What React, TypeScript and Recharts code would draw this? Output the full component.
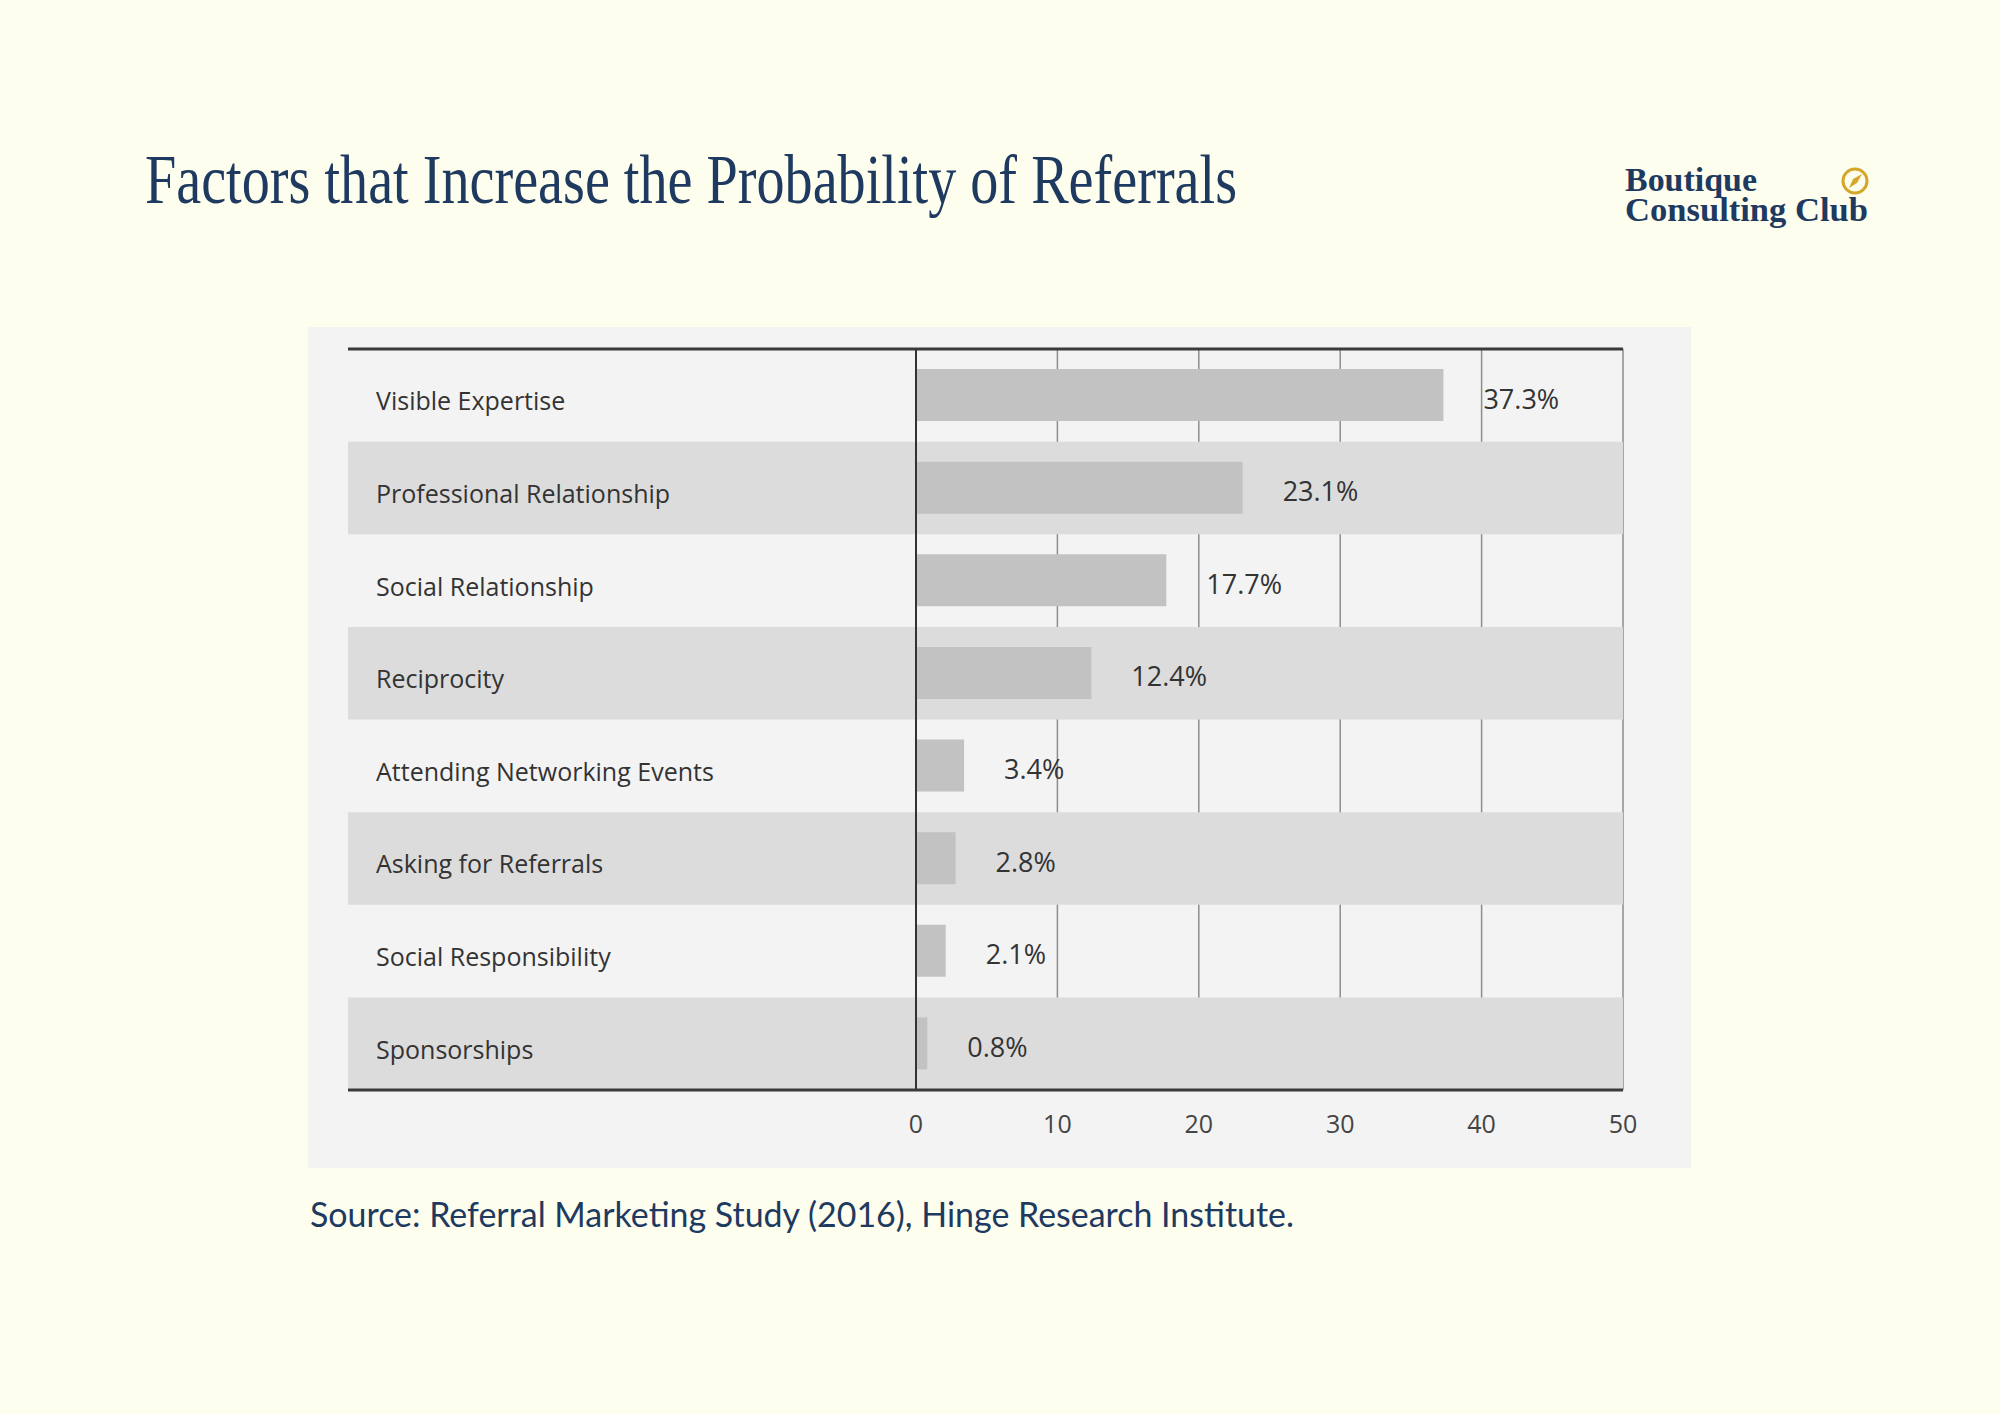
import React from 'react';
import {
    BarChart,
    Bar,
    XAxis,
    YAxis,
    CartesianGrid,
    ReferenceArea,
    ReferenceLine,
    LabelList
} from 'recharts';

const categories = [
    'Visible Expertise',
    'Professional Relationship',
    'Social Relationship',
    'Reciprocity',
    'Attending Networking Events',
    'Asking for Referrals',
    'Social Responsibility',
    'Sponsorships'
];
const shares = [37.3, 23.1, 17.7, 12.4, 3.4, 2.8, 2.1, 0.8];
const xTicks = [0, 10, 20, 30, 40, 50];

const NAVY = '#1f3a60';
const SANS = "'Open Sans', sans-serif";

// label column sits inside the plot, left of the zero line
const LABEL_COL = 568;
const VALUE_COL = 707;
const X_MIN = (-50 * LABEL_COL) / VALUE_COL;

const data = categories.map((name, i) => ({ name, value: shares[i] }));
const darkRows = categories.filter((_, i) => i % 2 === 1);

function CategoryTick({ y, payload }: any) {
    return (
        <text x={68} y={y + 5} dominantBaseline="central" fontFamily={SANS} fontSize={25} fill="#333">
            {payload.value}
        </text>
    );
}

function ValueLabel({ x, y, width, height, value }: any) {
    return (
        <text
            x={x + width + 40}
            y={y + height / 2 + 3}
            dominantBaseline="central"
            fontFamily={SANS}
            fontSize={27}
            fill="#333"
        >
            {value}%
        </text>
    );
}

export default function App() {
    return (
        <div style={{ position: 'absolute', left: 0, top: 0, width: 2000, height: 1414, background: '#fefeee', overflow: 'hidden' }}>
            {/* title, logo and source */}
            <svg width={2000} height={1414} style={{ position: 'absolute', left: 0, top: 0 }}>
                <text x={145} y={203} fontFamily="'Liberation Serif', serif" fontSize={69} fill={NAVY} textLength={1092} lengthAdjust="spacingAndGlyphs">
                    Factors that Increase the Probability of Referrals
                </text>
                <text x={1625} y={191} fontFamily="'Liberation Serif', serif" fontWeight="bold" fontSize={34} fill={NAVY} textLength={132} lengthAdjust="spacingAndGlyphs">
                    Boutique
                </text>
                <text x={1625} y={221} fontFamily="'Liberation Serif', serif" fontWeight="bold" fontSize={34} fill={NAVY} textLength={243} lengthAdjust="spacingAndGlyphs">
                    Consulting Club
                </text>
                <circle cx={1855} cy={181} r={12} fill="none" stroke="#d4a62a" strokeWidth={3} />
                <polygon points="1849,188 1853,179 1862,174 1857,183" fill="#d4a62a" />
                <text x={310} y={1227} fontFamily="Lato, sans-serif" fontSize={35} fill={NAVY} textLength={984} lengthAdjust="spacingAndGlyphs">
                    Source: Referral Marketing Study (2016),  Hinge Research Institute.
                </text>
            </svg>

            {/* chart panel */}
            <div style={{ position: 'absolute', left: 308, top: 327, width: 1383, height: 841, background: '#f3f3f3' }}>
                <BarChart
                    width={1383}
                    height={841}
                    data={data}
                    layout="vertical"
                    margin={{ top: 0, right: 68, bottom: 18, left: 39 }}
                    barCategoryGap={0}
                >
                    {darkRows.map((name) => (
                        <ReferenceArea key={name} y1={name} y2={name} fill="#dcdcdc" fillOpacity={1} strokeOpacity={0} />
                    ))}
                    <CartesianGrid horizontal={false} syncWithTicks stroke="#8d8d8d" strokeWidth={1.5} />
                    <XAxis
                        xAxisId="top"
                        orientation="top"
                        type="number"
                        domain={[X_MIN, 50]}
                        ticks={xTicks}
                        height={22}
                        tick={false}
                        tickLine={false}
                        axisLine={{ stroke: '#3a3a3a', strokeWidth: 3 }}
                    />
                    <XAxis
                        type="number"
                        domain={[X_MIN, 50]}
                        ticks={xTicks}
                        height={60}
                        tickLine={false}
                        tickMargin={19}
                        axisLine={{ stroke: '#3a3a3a', strokeWidth: 3 }}
                        tick={{ fontFamily: SANS, fontSize: 25, fill: '#444' }}
                    />
                    <YAxis
                        type="category"
                        dataKey="name"
                        width={1}
                        interval={0}
                        axisLine={false}
                        tickLine={false}
                        tick={CategoryTick}
                    />
                    <Bar dataKey="value" fill="#c2c2c2" barSize={52} isAnimationActive={false}>
                        <LabelList dataKey="value" content={ValueLabel} />
                    </Bar>
                    <ReferenceLine x={0} stroke="#333" strokeWidth={2} />
                </BarChart>
            </div>
        </div>
    );
}
